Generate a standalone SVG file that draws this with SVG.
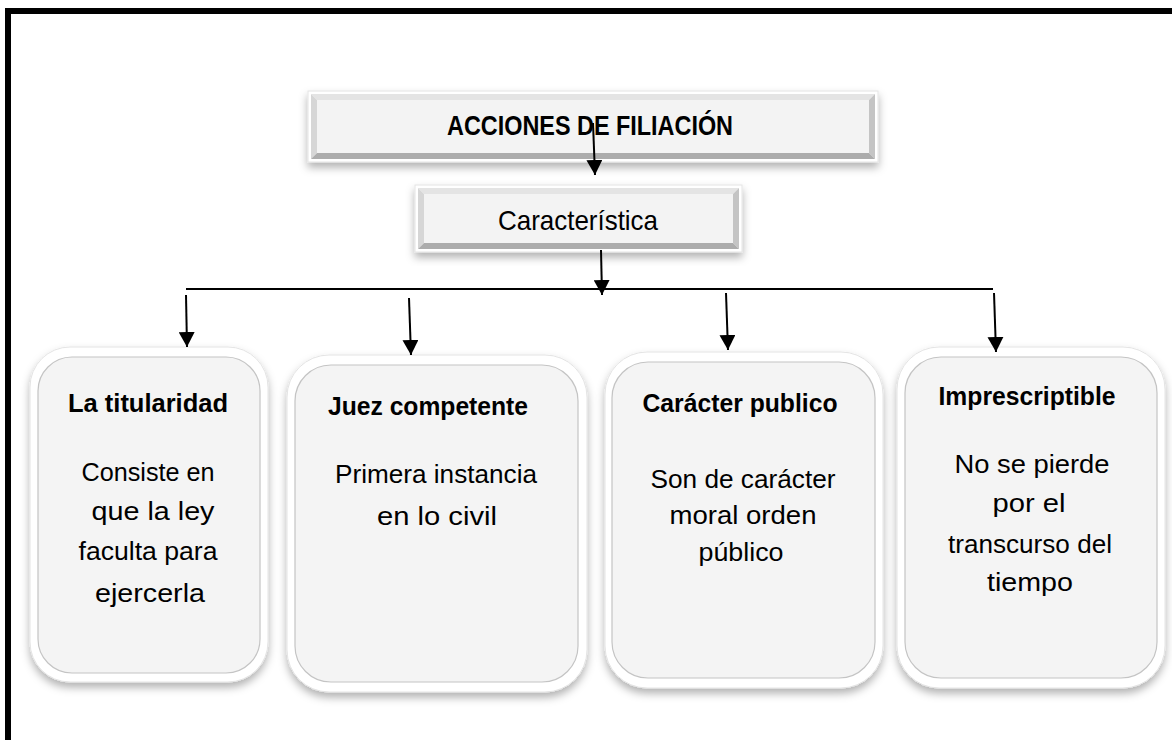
<svg xmlns="http://www.w3.org/2000/svg" width="1172" height="740" viewBox="0 0 1172 740">
<style>
.frame{fill:none;stroke:#000;stroke-width:6}
.shell{fill:#fff;stroke:#e4e4e4;stroke-width:1;filter:url(#sh)}
.face{fill:#f4f4f4;stroke:#c4c4c4;stroke-width:1.2}
.bvT{fill:#e4e4e4}.bvL{fill:#d6d6d6}.bvR{fill:#c4c4c4}.bvB{fill:#acacac}
.hd{font-family:"Liberation Sans",Arial,sans-serif;font-weight:bold;fill:#000;text-anchor:middle;font-size:25px}
.tx{font-family:"Liberation Sans",Arial,sans-serif;fill:#000;text-anchor:middle;font-size:26px}
.ln{stroke:#000;stroke-width:2;fill:none}
</style>
<defs>
<filter id="sh" x="-10%" y="-10%" width="120%" height="130%">
<feDropShadow dx="0" dy="5" stdDeviation="4" flood-color="#000" flood-opacity="0.3"/>
</filter>
<linearGradient id="fg" x1="0" y1="0" x2="0" y2="1">
<stop offset="0" stop-color="#f7f7f7"/><stop offset="0.85" stop-color="#f3f3f3"/><stop offset="1" stop-color="#e6e6e6"/>
</linearGradient>
<marker id="ah" markerUnits="userSpaceOnUse" markerWidth="16" markerHeight="16" viewBox="0 0 16 16" refX="15" refY="8" orient="auto">
<path d="M0,0 L15,8 L0,16 Z" fill="#000"/>
</marker>
</defs>
<rect width="1172" height="740" fill="#fff"/>
<rect class="frame" x="8" y="11" width="1190" height="760"/>

<g id="acciones">
<rect class="shell" x="308" y="91" width="570" height="71"/>
<polygon class="bvT" points="311,94 875,94 869,100 317,100"/>
<polygon class="bvL" points="311,94 317,100 317,153 311,159"/>
<polygon class="bvR" points="875,94 875,159 869,153 869,100"/>
<polygon class="bvB" points="311,159 317,153 869,153 875,159"/>
<rect x="317" y="100" width="552" height="53" fill="#f3f3f3"/>
<text class="hd" x="590" y="135" style="font-size:28px" textLength="286" lengthAdjust="spacingAndGlyphs">ACCIONES DE FILIACIÓN</text>
</g>

<g id="caracteristica">
<rect class="shell" x="415" y="185" width="327" height="67"/>
<polygon class="bvT" points="418,188 739,188 733,194 424,194"/>
<polygon class="bvL" points="418,188 424,194 424,243 418,249"/>
<polygon class="bvR" points="739,188 739,249 733,243 733,194"/>
<polygon class="bvB" points="418,249 424,243 733,243 739,249"/>
<rect x="424" y="194" width="309" height="49" fill="#f3f3f3"/>
<text class="tx" x="578" y="230" style="font-size:28px" textLength="160" lengthAdjust="spacingAndGlyphs">Característica</text>
</g>

<g id="titularidad">
<rect class="shell" x="30" y="347" width="238" height="335" rx="40"/>
<rect class="face" x="38" y="357" width="222" height="316" rx="34" fill="url(#fg)"/>
<text class="hd" x="148" y="412" textLength="160" lengthAdjust="spacingAndGlyphs">La titularidad</text>
<text class="tx" x="148" y="481" textLength="133" lengthAdjust="spacingAndGlyphs">Consiste en</text>
<text class="tx" x="153" y="520" textLength="123" lengthAdjust="spacingAndGlyphs">que la ley</text>
<text class="tx" x="148" y="560" textLength="139" lengthAdjust="spacingAndGlyphs">faculta para</text>
<text class="tx" x="150" y="602" textLength="110" lengthAdjust="spacingAndGlyphs">ejercerla</text>
</g>

<g id="juez">
<rect class="shell" x="287" y="355" width="300" height="337" rx="42"/>
<rect class="face" x="295" y="365" width="283" height="317" rx="36" fill="url(#fg)"/>
<text class="hd" x="428" y="415" textLength="200" lengthAdjust="spacingAndGlyphs">Juez competente</text>
<text class="tx" x="436" y="483" textLength="202" lengthAdjust="spacingAndGlyphs">Primera instancia</text>
<text class="tx" x="437" y="525" textLength="120" lengthAdjust="spacingAndGlyphs">en lo civil</text>
</g>

<g id="caracter">
<rect class="shell" x="605" y="352" width="278" height="336" rx="42"/>
<rect class="face" x="612" y="362" width="263" height="316" rx="36" fill="url(#fg)"/>
<text class="hd" x="740" y="412" textLength="195" lengthAdjust="spacingAndGlyphs">Carácter publico</text>
<text class="tx" x="743" y="488" textLength="185" lengthAdjust="spacingAndGlyphs">Son de carácter</text>
<text class="tx" x="743" y="524" textLength="147" lengthAdjust="spacingAndGlyphs">moral orden</text>
<text class="tx" x="741" y="561" textLength="85" lengthAdjust="spacingAndGlyphs">público</text>
</g>

<g id="imprescriptible">
<rect class="shell" x="897" y="347" width="268" height="341" rx="42"/>
<rect class="face" x="905" y="357" width="252" height="321" rx="36" fill="url(#fg)"/>
<text class="hd" x="1027" y="405" textLength="177" lengthAdjust="spacingAndGlyphs">Imprescriptible</text>
<text class="tx" x="1032" y="473" textLength="155" lengthAdjust="spacingAndGlyphs">No se pierde</text>
<text class="tx" x="1029" y="512" textLength="73" lengthAdjust="spacingAndGlyphs">por el</text>
<text class="tx" x="1030" y="553" textLength="164" lengthAdjust="spacingAndGlyphs">transcurso del</text>
<text class="tx" x="1030" y="591" textLength="86" lengthAdjust="spacingAndGlyphs">tiempo</text>
</g>

<g id="connectors">
<line class="ln" x1="593" y1="123" x2="595" y2="175" marker-end="url(#ah)"/>
<line class="ln" x1="601" y1="250" x2="602" y2="295" marker-end="url(#ah)"/>
<line class="ln" x1="186" y1="289" x2="993" y2="289"/>
<line class="ln" x1="186" y1="295" x2="187" y2="347" marker-end="url(#ah)"/>
<line class="ln" x1="409" y1="298" x2="411" y2="355" marker-end="url(#ah)"/>
<line class="ln" x1="726" y1="293" x2="728" y2="350" marker-end="url(#ah)"/>
<line class="ln" x1="994" y1="293" x2="996" y2="352" marker-end="url(#ah)"/>
</g>
</svg>
